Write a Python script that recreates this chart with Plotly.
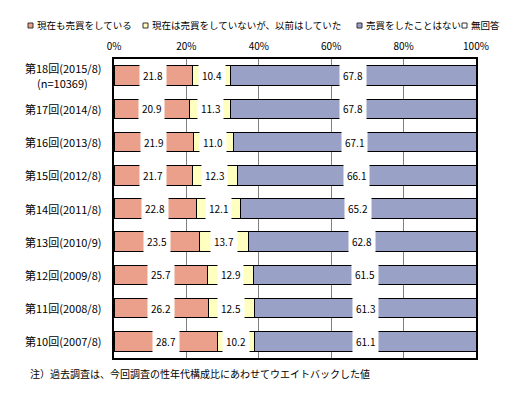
import plotly.graph_objects as go

categories = ["第18回(2015/8)", "第17回(2014/8)", "第16回(2013/8)", "第15回(2012/8)",
              "第14回(2011/8)", "第13回(2010/9)", "第12回(2009/8)", "第11回(2008/8)",
              "第10回(2007/8)"]
category_sub = ["(n=10369)", "", "", "", "", "", "", "", ""]
current = [21.8, 20.9, 21.9, 21.7, 22.8, 23.5, 25.7, 26.2, 28.7]
before = [10.4, 11.3, 11.0, 12.3, 12.1, 13.7, 12.9, 12.5, 10.2]
never = [67.8, 67.8, 67.1, 66.1, 65.2, 62.8, 61.5, 61.3, 61.1]
no_answer = [0.0, 0.0, 0.0, 0.0, 0.0, 0.0, 0.0, 0.0, 0.0]
series_names = ["現在も売買をしている", "現在は売買をしていないが、以前はしていた",
                "売買をしたことはない", "無回答"]
colors = ["#EBA08B", "#FFFFC0", "#99A2C6", "#FFFFFF"]
tick_vals = [0, 20, 40, 60, 80, 100]
tick_text = ["0%", "20%", "40%", "60%", "80%", "100%"]
footnote = "注）過去調査は、今回調査の性年代構成比にあわせてウエイトバックした値"

FONT = "Noto Sans CJK JP"
# page body margin is 8px: the figure starts at (8, 8) in the window
OFF = 8
WIDTH, HEIGHT = 523 - 2 * OFF, 394 - 2 * OFF
# plot area in window pixels
L, R, T, B = 114, 476, 59, 358
PW, PH = R - L, B - T


def xp(p):
    return (p - L) / PW


def yp(p):
    return (B - p) / PH


series = [current, before, never, no_answer]
fig = go.Figure()
for name, vals, col in zip(series_names, series, colors):
    fig.add_trace(go.Bar(
        y=categories, x=vals, name=name, orientation="h",
        marker=dict(color=col, line=dict(color="black", width=1)),
        showlegend=False, hoverinfo="x+name",
    ))

annotations = []
# data labels
for i, cat in enumerate(categories):
    start = 0.0
    for vals in series[:3]:
        v = vals[i]
        annotations.append(dict(
            x=start + v / 2, y=cat, xref="x", yref="y", text=f"{v:.1f}",
            showarrow=False, bgcolor="white", borderpad=3,
            font=dict(family=FONT, size=10, color="black"),
        ))
        start += v

# category labels
for cat, sub in zip(categories, category_sub):
    annotations.append(dict(
        x=xp(103), y=cat, xref="paper", yref="y", text=cat, showarrow=False,
        xanchor="right", yanchor="middle", yshift=7.5 if sub else 0,
        height=14 if sub else None,
        font=dict(family=FONT, size=11, color="black"),
    ))
    if sub:
        annotations.append(dict(
            x=xp(62), y=cat, xref="paper", yref="y", text=sub, showarrow=False,
            xanchor="center", yanchor="middle", yshift=-7.5, height=14,
            font=dict(family=FONT, size=11, color="black"),
        ))

# legend
legend_box_x = [28, 143, 357, 462]
shapes = []
for name, col, bx in zip(series_names, colors, legend_box_x):
    shapes.append(dict(type="rect", xref="paper", yref="paper",
                       x0=xp(bx), x1=xp(bx + 5), y0=yp(28), y1=yp(23),
                       fillcolor=col, line=dict(color="#333333", width=1)))
    annotations.append(dict(
        x=xp(bx + 7), y=yp(25.5), xref="paper", yref="paper", text=name,
        showarrow=False, xanchor="left", yanchor="middle",
        font=dict(family=FONT, size=9.5, color="black"),
    ))

annotations.append(dict(
    x=xp(28), y=yp(373), xref="paper", yref="paper", text=footnote,
    showarrow=False, xanchor="left", yanchor="middle",
    font=dict(family=FONT, size=10, color="black"),
))

fig.update_layout(
    width=WIDTH, height=HEIGHT, barmode="stack", bargap=0.41,
    margin=dict(l=L - OFF, r=OFF + WIDTH - R, t=T - OFF, b=OFF + HEIGHT - B, pad=0),
    paper_bgcolor="white", plot_bgcolor="white",
    font=dict(family=FONT, size=10, color="black"),
    annotations=annotations, shapes=shapes,
    xaxis=dict(range=[0, 100], side="top", tickvals=tick_vals, ticktext=tick_text,
               showgrid=True, gridcolor="#808080", gridwidth=1,
               showline=True, linecolor="black", linewidth=1.5, mirror=True,
               zeroline=False, ticks="", automargin=False, ticklabelstandoff=3,
               tickfont=dict(family=FONT, size=10, color="black")),
    yaxis=dict(autorange="reversed", showticklabels=False, showgrid=False,
               showline=True, linecolor="black", linewidth=1.5, mirror=True,
               ticks="", automargin=False, type="category"),
)

fig.write_html("out.html")
